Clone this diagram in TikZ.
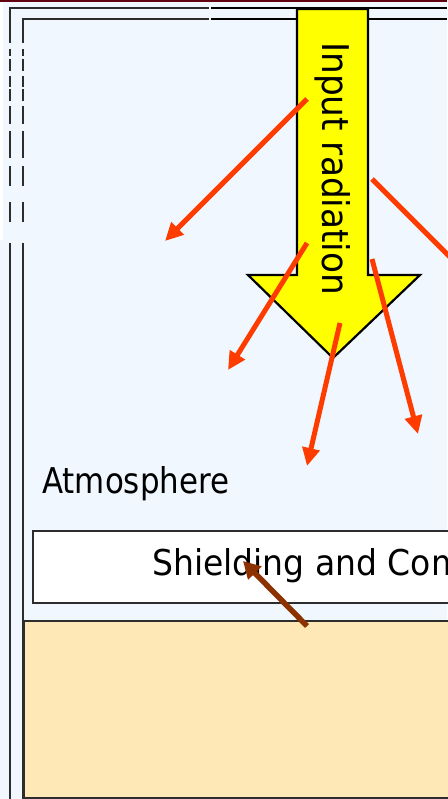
\documentclass[tikz,border=0pt]{standalone}
\usepackage{fontspec}
\setmainfont{DejaVu Sans}
\usepackage{graphicx}
\usetikzlibrary{arrows.meta}
\definecolor{bgblue}{RGB}{240,247,254}
\definecolor{topred}{RGB}{96,0,16}
\definecolor{tanfill}{RGB}{254,232,182}
\definecolor{rayred}{RGB}{255,60,0}
\definecolor{raybrown}{RGB}{140,50,0}
\definecolor{framegray}{RGB}{45,45,45}
\definecolor{arrowyellow}{RGB}{255,255,0}
\begin{document}
\begin{tikzpicture}[x=1pt,y=-1pt,
  frameline/.style={line width=2.6pt,draw=framegray},
  frameblack/.style={line width=2.6pt,draw=black},
  ray/.style={line width=5pt,draw=rayred,-{Triangle[length=18pt,width=17pt]}},
  raybrownstyle/.style={line width=5.5pt,draw=raybrown,-{Triangle[length=17pt,width=18pt]}},
  lbl/.style={inner sep=0pt,text=black}]
\useasboundingbox (0,0) rectangle (447,799);
\fill[bgblue] (0,0) rectangle (447,799);
\fill[white] (0,3) rectangle (3,240);
\fill[topred] (0,0) rectangle (447,2.5);
% frame top lines
\draw[frameline] (9,8) -- (209,8);
\draw[frameline] (22,19) -- (209,19);
\draw[frameblack] (211,8) -- (447,8);
\draw[frameblack] (211,19) -- (447,19);
% frame left lines (broken)
\foreach \a/\b in {8/43,49/56,59/71,76/87,89/101,106/124,131/158,166/186,202/222,243/799}
  \draw[frameline] (10,\a) -- (10,\b);
\foreach \a/\b in {19/43,49/56,59/71,76/87,89/101,106/124,131/158,166/186,202/222,243/799}
  \draw[frameline] (23,\a) -- (23,\b);
% ground
\node[name=ground, draw=framegray, line width=2.2pt, fill=tanfill, inner sep=0pt,
  minimum width=450pt, minimum height=177pt, anchor=north west] at (23,620) {};
% shielding box
\node[name=shieldbox, draw=framegray, line width=2.2pt, fill=white, inner sep=0pt,
  minimum width=430pt, minimum height=72pt, anchor=north west] at (32,530) {};
\node[lbl, name=shieldtext, anchor=base west] at (152,575) {\resizebox{311pt}{27pt}{Shielding and Com}};
\node[lbl, name=atmo, anchor=base west] at (42,493) {\resizebox{187pt}{27pt}{Atmosphere}};
% input radiation arrow
\draw[fill=arrowyellow, draw=black, line width=2.2pt, line join=miter]
  (297,9) -- (368,9) -- (368,275) -- (420,275) -- (333,358) -- (248,275) -- (297,275) -- cycle;
\node[lbl, name=inputtext, rotate=-90, anchor=base west] at (322,42) {\resizebox{253pt}{28pt}{Input radiation}};
% rays
\coordinate (r1s) at (307,99);  \coordinate (r1e) at (165,241);
\coordinate (r2s) at (372,179); \coordinate (r2e) at (455,262);
\coordinate (r3s) at (307,243); \coordinate (r3e) at (228,370);
\coordinate (r4s) at (340,323); \coordinate (r4e) at (307,466);
\coordinate (r5s) at (372,259); \coordinate (r5e) at (418,434);
\coordinate (bs) at (307,626);  \coordinate (be) at (243,561);
\draw[ray] (r1s) -- (r1e);
\draw[line width=5pt, draw=rayred] (r2s) -- (r2e);
\draw[ray] (r3s) -- (r3e);
\draw[ray] (r4s) -- (r4e);
\draw[ray] (r5s) -- (r5e);
\draw[raybrownstyle] (bs) -- (be);
\end{tikzpicture}
\end{document}
